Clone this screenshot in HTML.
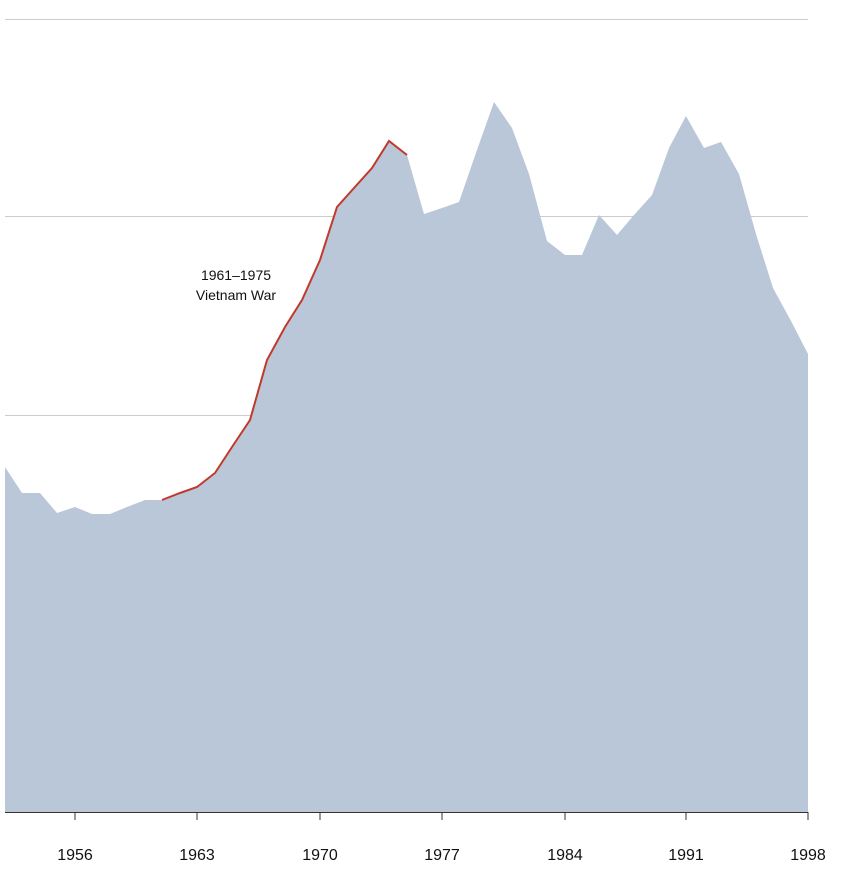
<!DOCTYPE html>
<html><head><style>body{margin:0;background:#fff}svg{display:block}</style></head><body>
<svg width="853" height="890" xmlns="http://www.w3.org/2000/svg" font-family="Liberation Sans, Arial, sans-serif">
<g stroke="#cccccc" stroke-width="1">
<line x1="5" x2="808" y1="19.5" y2="19.5"/>
<line x1="5" x2="808" y1="216.5" y2="216.5"/>
<line x1="5" x2="808" y1="415.5" y2="415.5"/>
</g>
<path fill="#b9c7d8" d="M5,812 L5,467 22,493 40,493 57,513 75,507 92,514 110,514 127,507 145,500 162,500 180,493 197,487 215,473 232,447 250,420 267,360 285,327 302,300 320,260 337,207 354,188 372,168 389,141 407,155 424,214 442,208 459,202 477,150 494,102 512,128 529,174 547,241 565,255 582,255 599,215 617,235 634,215 652,195 669,148 686,116 704,148 721,142 739,174 756,234 773,288 791,321 808,354 808,812 Z"/>
<polyline fill="none" stroke="#c0392b" stroke-width="2" points="162,500 180,493 197,487 215,473 232,447 250,420 267,360 285,327 302,300 320,260 337,207 354,188 372,168 389,141 407,155"/>
<line x1="5" x2="808" y1="812.5" y2="812.5" stroke="#333" stroke-width="1"/>
<g stroke="#333" stroke-width="1">
<line x1="75" x2="75" y1="812" y2="820"/><line x1="197" x2="197" y1="812" y2="820"/><line x1="320" x2="320" y1="812" y2="820"/><line x1="442" x2="442" y1="812" y2="820"/><line x1="565" x2="565" y1="812" y2="820"/><line x1="686" x2="686" y1="812" y2="820"/><line x1="808" x2="808" y1="812" y2="820"/>
</g>
<g font-size="16" fill="#111" text-anchor="middle">
<text x="75" y="860">1956</text><text x="197" y="860">1963</text><text x="320" y="860">1970</text><text x="442" y="860">1977</text><text x="565" y="860">1984</text><text x="686" y="860">1991</text><text x="808" y="860">1998</text>
</g>
<g font-size="14" fill="#111" text-anchor="middle">
<text x="236" y="280">1961–1975</text><text x="236" y="300">Vietnam War</text>
</g>
</svg>
</body></html>
